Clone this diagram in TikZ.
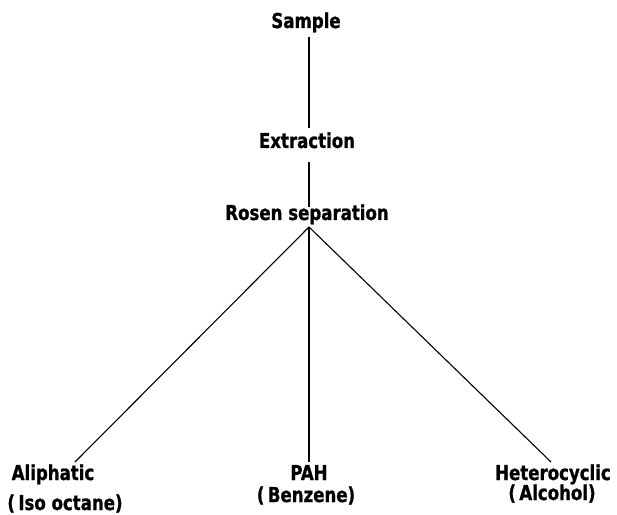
\documentclass[tikz,border=0pt]{standalone}
\usepackage{fontspec}
\setmainfont{DejaVu Sans Condensed}[BoldFont={DejaVu Sans Condensed Bold},BoldFeatures={FakeStretch=0.9,FakeBold=1}]
\begin{document}
\begin{tikzpicture}[x=1pt,y=1pt,
  lbl/.style={font=\bfseries\fontsize{20.5}{22}\selectfont, inner sep=0pt, anchor=base},
  conn/.style={line width=1.1pt, black}]
\useasboundingbox (0,0) rectangle (617,514);
% reference image coords: y_tikz = 514 - y_img
\node[lbl] (sample) at (306,486) {Sample};
\node[lbl] (extraction) at (307,366) {Extraction};
\node[lbl] (rosen) at (307,294) {Rosen separation};
\node[lbl] (ali) at (53,34) {Aliphatic};
\node[lbl] (iso) at (65,4) {(\,Iso octane)};
\node[lbl] (pah) at (309,34) {PAH};
\node[lbl] (benz) at (306,12) {(\,Benzene)};
\node[lbl] (het) at (553,34) {Heterocyclic};
\node[lbl] (alc) at (552,14) {(\,Alcohol)};
\coordinate (s1) at (309,477);
\coordinate (e1) at (309,386);
\coordinate (e2) at (309,352);
\coordinate (branch) at (309,287);
\coordinate (r1) at (309,307);
\coordinate (aliend) at (75,52);
\coordinate (pahend) at (309,52);
\coordinate (hetend) at (551,52);
\draw[conn] (s1) -- (e1);
\draw[conn] (e2) -- (r1);
\draw[conn] (branch) -- (aliend);
\draw[conn] (branch) -- (pahend);
\draw[conn] (branch) -- (hetend);
\end{tikzpicture}
\end{document}
